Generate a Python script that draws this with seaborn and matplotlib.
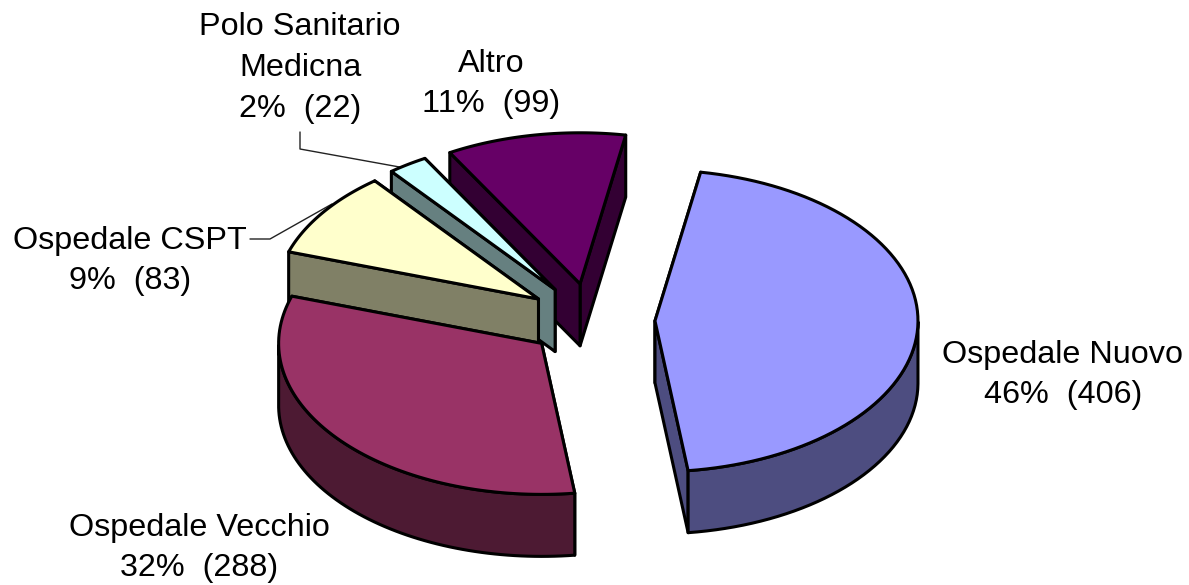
import numpy as np
import matplotlib.pyplot as plt
import seaborn as sns

# dati
categorie = ['Ospedale Nuovo', 'Ospedale Vecchio', 'Ospedale CSPT', 'Polo Sanitario\nMedicna', 'Altro']
valori = [406, 288, 83, 22, 99]
percentuali = ['46%', '32%', '9%', '2%', '11%']
colori = ['#9999FF', '#993366', '#FFFFCC', '#CCFFFF', '#660066']
colori_lato = ['#4D4D80', '#4D1A33', '#808066', '#668080', '#330033']

sns.set_theme(style='white')
plt.rcParams['font.family'] = ['Liberation Sans', 'DejaVu Sans']

fig = plt.figure(figsize=(11.89, 5.85), dpi=100)
ax = fig.add_axes([0, 0, 1, 1])
ax.set_xlim(0, 1189)
ax.set_ylim(585, 0)
ax.axis('off')

cx, cy = 591, 320   # centro torta
a, b = 263, 151     # ellisse
esplodi = 64
prof = 62
inizio = 10.0


def xy(ang, r=1.0):
    ang = np.radians(ang)
    return r * a * np.sin(ang), -r * b * np.cos(ang)


def faccia(pts, col, z):
    pts = np.array(pts)
    ax.fill(pts[:, 0], pts[:, 1], facecolor=col, edgecolor='black', lw=2.2, joinstyle='round', zorder=z)


totale = sum(valori)
ang = inizio
ordine = []
for i, v in enumerate(valori):
    fine = ang + v / totale * 360
    ordine.append((i, ang, fine))
    ang = fine

# dal fondo verso il davanti
z = 1
for i in [4, 3, 2, 1, 0]:
    _, a0, a1 = ordine[i]
    dx, dy = xy((a0 + a1) / 2, esplodi / a)
    ox, oy = cx + dx, cy + dy
    t = np.linspace(a0, a1, 80)
    arco = np.array([[ox + xy(q)[0], oy + xy(q)[1]] for q in t])
    centro = [ox, oy]
    giu = np.array([0, prof])
    muri = [[centro, arco[0], arco[0] + giu, np.array(centro) + giu],
            [centro, arco[-1], arco[-1] + giu, np.array(centro) + giu]]
    muri.sort(key=lambda m: np.mean([p[1] for p in m]))
    for m in muri:
        faccia(m, colori_lato[i], z)
        z += 1
    davanti = np.cos(np.radians(t)) <= 0
    if davanti.any():
        parte = arco[davanti]
        faccia(np.vstack([parte, (parte + giu)[::-1]]), colori_lato[i], z)
        z += 1
    faccia(np.vstack([[centro], arco]), colori[i], z)
    z += 1

# linee guida
ax.plot([250, 270, 332], [239, 239, 204], color='#222222', lw=1, zorder=0)
ax.plot([300, 300, 405], [132, 149, 168], color='#222222', lw=1, zorder=0)

# etichette
pos = [(1063, 375), (199, 548), (130, 261), (300, 68), (491, 84)]
for nome, v, p, (x, y) in zip(categorie, valori, percentuali, pos):
    ax.text(x, y, f'{nome}\n{p}  ({v})', ha='center', va='center', fontsize=23.3, color='black',
            linespacing=1.46, zorder=100)

fig.savefig('out.png', dpi=100, facecolor='white')
